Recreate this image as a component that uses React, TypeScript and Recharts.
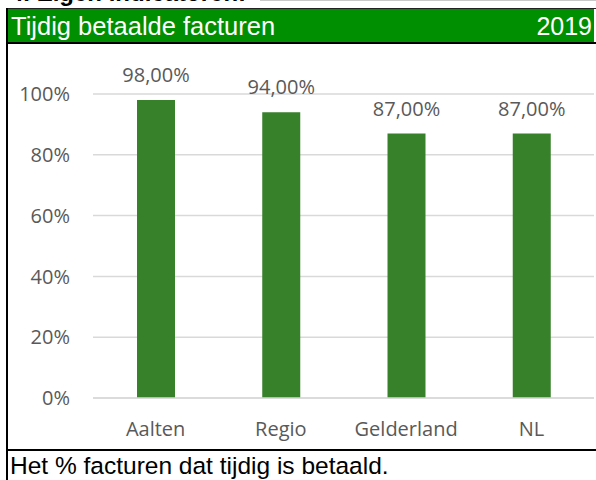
import React from "react";
import { BarChart, Bar, XAxis, YAxis, CartesianGrid, LabelList } from "recharts";

const regions: string[] = ["Aalten", "Regio", "Gelderland", "NL"];
const paidOnTime: number[] = [98, 94, 87, 87];
const yTicks: number[] = [0, 20, 40, 60, 80, 100];

const chartData = regions.map((name, i) => ({ name, value: paidOnTime[i] }));

const axisFont = { fontFamily: "'Open Sans', sans-serif", fontSize: 20, fill: "#595959" };
const arial = "'Liberation Sans', Arial, sans-serif";

const formatPct = (v: number) => `${v.toFixed(2).replace(".", ",")}%`;

const App: React.FC = () => {
  return (
    <div
      style={{
        position: "absolute",
        left: 0,
        top: 0,
        width: 596,
        height: 480,
        overflow: "hidden",
        background: "#fff",
      }}
    >
      {/* section heading, mostly cut off at the top */}
      <div
        style={{
          position: "absolute",
          left: 10,
          top: -19,
          fontFamily: arial,
          fontWeight: "bold",
          fontSize: 24,
          lineHeight: "24px",
          color: "#000",
          whiteSpace: "nowrap",
        }}
      >
        4. Eigen indicatoren:
      </div>
      <div style={{ position: "absolute", left: 260, top: 0, width: 336, height: 1, background: "#c8c8c8" }} />

      {/* green title bar */}
      <div style={{ position: "absolute", left: 6, top: 8, width: 590, height: 1, background: "#222" }} />
      <div style={{ position: "absolute", left: 8, top: 9, width: 586, height: 33, background: "#008f00" }} />
      <div
        style={{
          position: "absolute",
          left: 11,
          top: 14,
          fontFamily: arial,
          fontSize: 25.5,
          lineHeight: "25px",
          color: "#fff",
          whiteSpace: "nowrap",
        }}
      >
        Tijdig betaalde facturen
      </div>
      <div
        style={{
          position: "absolute",
          right: 4,
          top: 14,
          fontFamily: arial,
          fontSize: 25,
          lineHeight: "25px",
          color: "#fff",
        }}
      >
        2019
      </div>
      <div style={{ position: "absolute", left: 6, top: 42, width: 590, height: 2, background: "#000" }} />

      {/* borders */}
      <div style={{ position: "absolute", left: 6, top: 8, width: 2, height: 472, background: "#000" }} />
      <div style={{ position: "absolute", left: 6, top: 449, width: 590, height: 2, background: "#000" }} />

      {/* chart */}
      <div style={{ position: "absolute", left: 0, top: 44 }}>
        <BarChart
          width={596}
          height={405}
          data={chartData}
          margin={{ top: 50, right: 2, bottom: 0, left: 0 }}
          barCategoryGap="30%"
        >
          <CartesianGrid vertical={false} stroke="#d9d9d9" strokeWidth={1.5} />
          <XAxis
            dataKey="name"
            height={51}
            tickLine={false}
            tickSize={0}
            tickMargin={24}
            axisLine={{ stroke: "#d9d9d9", strokeWidth: 1.5 }}
            tick={axisFont}
            interval={0}
          />
          <YAxis
            width={93}
            domain={[0, 100]}
            ticks={yTicks}
            tickFormatter={(v: number) => `${v}%`}
            tickLine={false}
            axisLine={false}
            tickSize={0}
            tickMargin={23}
            tick={axisFont}
          />
          <Bar dataKey="value" fill="#37812a" barSize={38} isAnimationActive={false}>
            <LabelList
              dataKey="value"
              position="top"
              offset={18}
              formatter={(v: number) => formatPct(v)}
              style={axisFont}
            />
          </Bar>
        </BarChart>
      </div>

      {/* footnote */}
      <div
        style={{
          position: "absolute",
          left: 10,
          top: 454,
          fontFamily: arial,
          fontSize: 24.5,
          lineHeight: "24px",
          color: "#000",
          whiteSpace: "nowrap",
        }}
      >
        Het % facturen dat tijdig is betaald.
      </div>
    </div>
  );
};

export default App;
